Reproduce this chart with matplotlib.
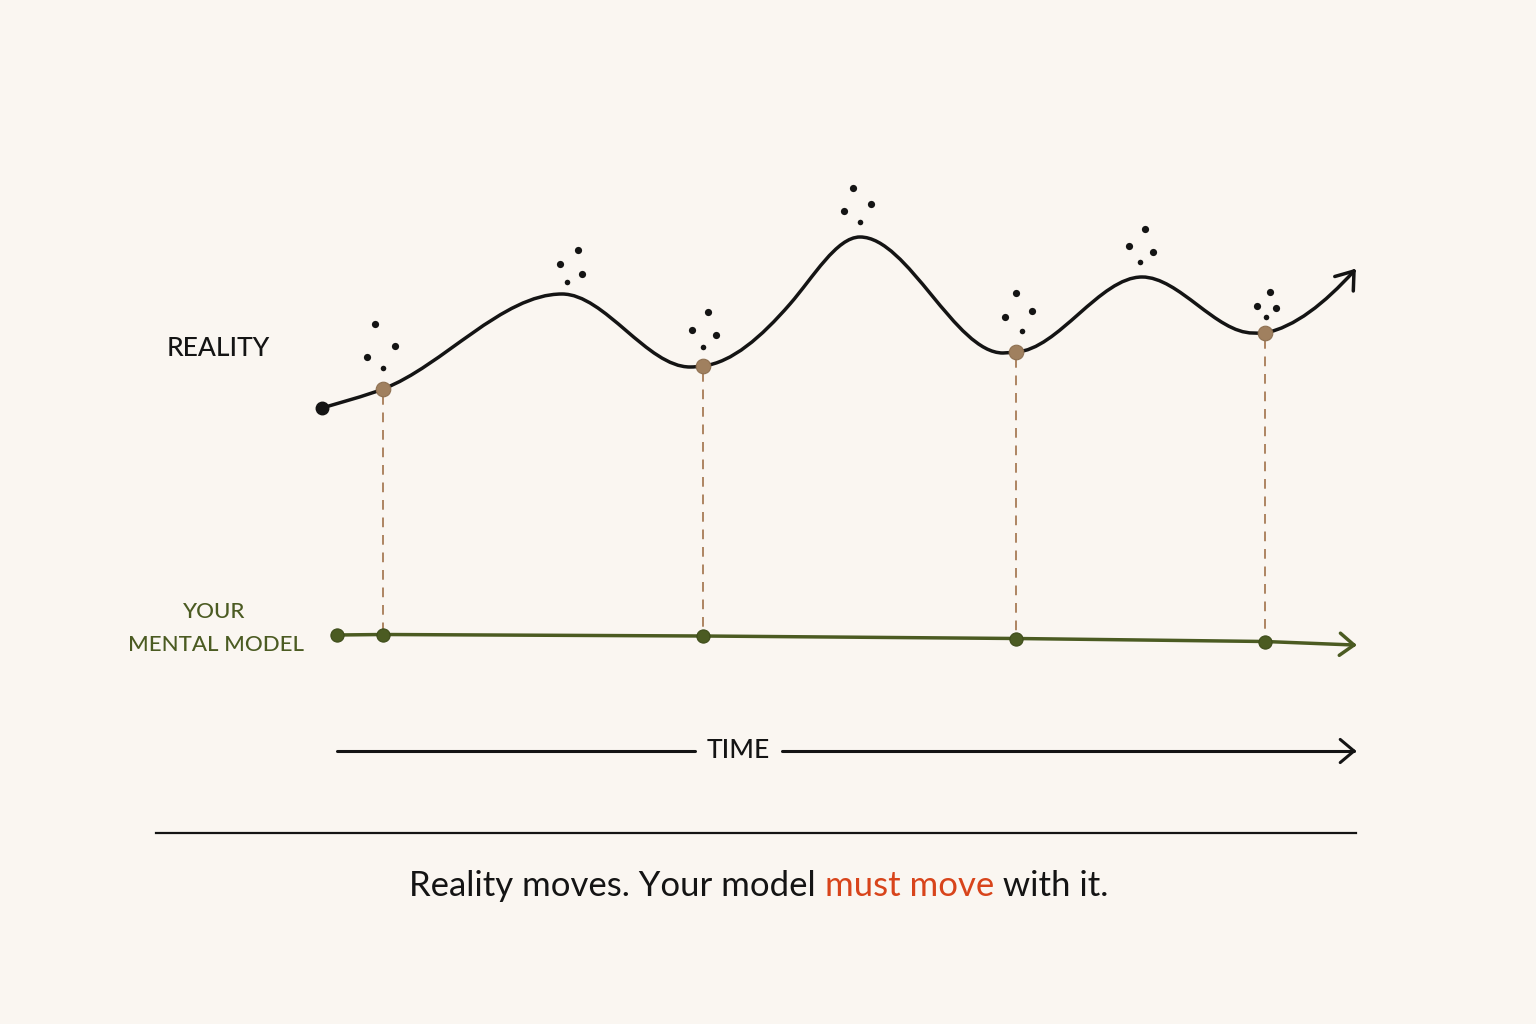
import numpy as np
import matplotlib
matplotlib.use("Agg")
import matplotlib.pyplot as plt
from matplotlib.path import Path
from matplotlib.patches import PathPatch

# ---------------- data (drawing units = reference pixels) ----------------
# knots of the "reality" curve (x, y, local slope)
reality_x = [322, 383, 562, 690, 703, 790, 860, 1003, 1016, 1142, 1253, 1265, 1354]
reality_y = [408, 389, 294, 367, 366, 304, 237, 353, 352, 277, 333, 333, 271]
reality_slope = [-0.30, -0.38, 0.0, 0.0, -0.12, -1.15, 0.0, 0.0, -0.05,
                 0.0, 0.0, -0.2, -1.1]

check_x = [383, 703, 1016, 1265]          # moments where reality is sampled
check_reality_y = [389, 366, 352, 333]
model_x = [337, 383, 703, 1016, 1265, 1354]
model_y = [635, 634.5, 636, 638.5, 641.5, 645]

# little "noise" dots above each turning point
dots_x = [375, 367, 395, 383,
          578, 560, 582, 567,
          708, 692, 716, 703,
          853, 844, 871, 860,
          1016, 1005, 1032, 1022,
          1145, 1129, 1153, 1140,
          1270, 1257, 1276, 1266]
dots_y = [324, 357, 346, 368,
          250, 264, 274, 282,
          312, 330, 335, 347,
          188, 211, 204, 222,
          293, 317, 311, 331,
          229, 246, 252, 262,
          292, 306, 308, 317]
dots_big = [1, 1, 1, 0] * 7

label_reality = "REALITY"
label_model = ["YOUR", "MENTAL MODEL"]
label_time = "TIME"
caption_parts = ["Reality moves. Your model ", "must move", " with it."]

# ---------------- style ----------------
BG = "#faf6f1"
INK = "#141414"
BROWN = "#a0805f"
DASH = "#ad8462"
GREEN = "#4b5b22"
RED = "#d8441b"
FONT = ["Lato", "DejaVu Sans"]

fig = plt.figure(figsize=(15.36, 10.24), dpi=100, facecolor=BG)
ax = fig.add_axes([0, 0, 1, 1])
ax.set_facecolor(BG)
ax.set_xlim(0, 1536)
ax.set_ylim(1024, 0)
ax.axis("off")


def chevron(tip, angle_deg, length, half_angle, color, lw):
    a = np.deg2rad(angle_deg)
    for s in (1, -1):
        b = a + np.pi + s * np.deg2rad(half_angle)
        ax.plot([tip[0] + length * np.cos(b), tip[0]],
                [tip[1] + length * np.sin(b), tip[1]],
                color=color, lw=lw, solid_capstyle="round", zorder=5)


# reality curve as cubic Hermite segments (Bezier)
verts = [(reality_x[0], reality_y[0])]
codes = [Path.MOVETO]
for i in range(len(reality_x) - 1):
    x0, y0, m0 = reality_x[i], reality_y[i], reality_slope[i]
    x1, y1, m1 = reality_x[i + 1], reality_y[i + 1], reality_slope[i + 1]
    d = (x1 - x0) / 3.0
    verts += [(x0 + d, y0 + m0 * d), (x1 - d, y1 - m1 * d), (x1, y1)]
    codes += [Path.CURVE4] * 3
ax.add_patch(PathPatch(Path(verts, codes), fill=False, edgecolor=INK, lw=2.5,
                       capstyle="round", joinstyle="round", zorder=4))
chevron((reality_x[-1], reality_y[-1]), -52, 20, 36, INK, 2.5)
ax.plot(reality_x[0], reality_y[0], "o", color=INK, ms=9, zorder=6)

# dots
for x, y, big in zip(dots_x, dots_y, dots_big):
    ax.plot(x, y, "o", color=INK, ms=5.2 if big else 4.0, mec="none", zorder=4)

# dashed connectors
model_at = dict(zip(model_x, model_y))
for x, y in zip(check_x, check_reality_y):
    ax.plot([x, x], [y + 6, model_at[x] - 6], color=DASH, lw=1.4,
            dashes=(5, 4), zorder=3)

# mental model line
ax.plot(model_x, model_y, color=GREEN, lw=2.5, solid_capstyle="round", zorder=4)
chevron((model_x[-1], model_y[-1]), 3, 18, 38, GREEN, 2.5)
ax.plot(model_x[:-1], model_y[:-1], "o", color=GREEN, ms=9.5, mec="#3e4c1a",
        mew=0.8, zorder=6)
ax.plot(check_x, check_reality_y, "o", color=BROWN, ms=10.5, mec="#8f7152",
        mew=0.8, zorder=6)

# labels
ax.text(218, 348, label_reality, fontsize=19, color=INK, ha="center",
        va="center", family=FONT, fontweight="medium")
ax.text(214, 612, label_model[0], fontsize=16, color=GREEN, ha="center",
        va="center", family=FONT, fontweight="medium")
ax.text(216, 645, label_model[1], fontsize=16, color=GREEN, ha="center",
        va="center", family=FONT, fontweight="medium")

# time axis
ax.plot([337, 695], [751, 751], color=INK, lw=2.2, solid_capstyle="round")
ax.plot([782, 1354], [751, 751], color=INK, lw=2.2, solid_capstyle="round")
chevron((1354, 751), 0, 18, 40, INK, 2.2)
ax.text(738, 751, label_time, fontsize=19, color=INK, ha="center",
        va="center", family=FONT, fontweight="medium")

# separator
ax.plot([156, 1356], [833, 833], color=INK, lw=1.6)

# caption with coloured words
fig.canvas.draw()
renderer = fig.canvas.get_renderer()
colors = [INK, RED, INK]
pieces = []
for part, c in zip(caption_parts, colors):
    t = ax.text(0, 896, part, fontsize=25, color=c, ha="left", va="baseline",
                family=FONT)
    pieces.append(t)
widths = []
inv = ax.transData.inverted()
for t in pieces:
    bb = t.get_window_extent(renderer)
    p0 = inv.transform((bb.x0, bb.y0))
    p1 = inv.transform((bb.x1, bb.y0))
    widths.append(p1[0] - p0[0])
x = 759 - sum(widths) / 2
for t, w in zip(pieces, widths):
    t.set_x(x)
    x += w

fig.savefig("out.png", dpi=100, facecolor=BG)
